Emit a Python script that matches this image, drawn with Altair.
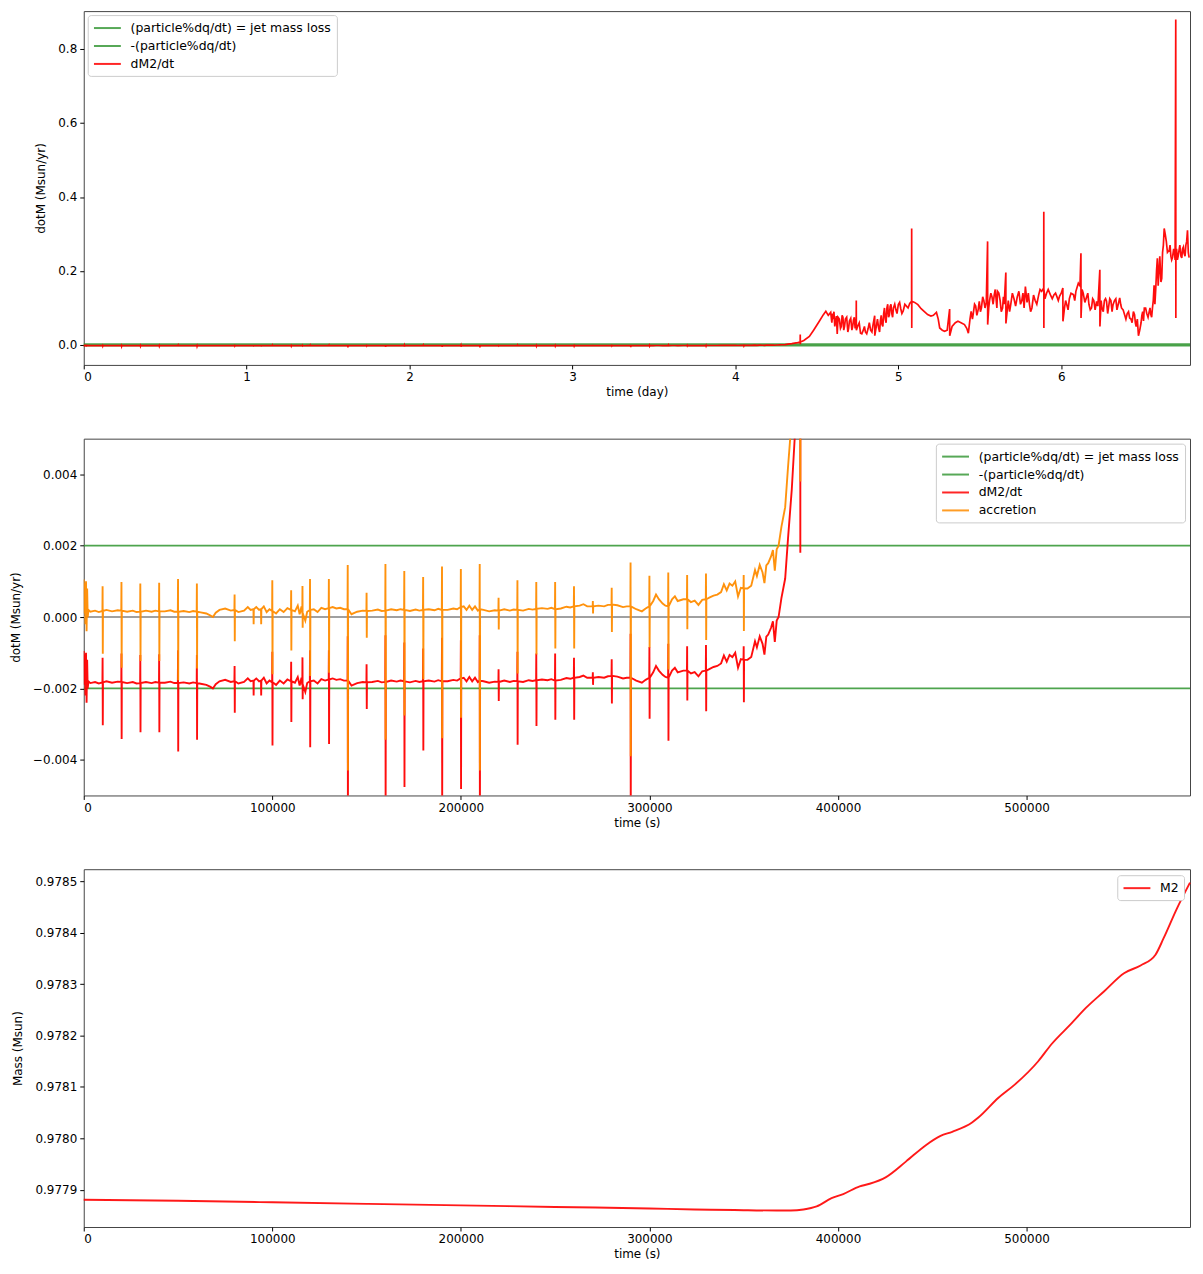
import altair as alt
import pandas as pd
import numpy as np

# ---------------- data ----------------
# dM2/dt baseline before the rise (time in s, Msun/yr)
base_t = [0, 300, 600, 900, 1200, 1500, 1800, 2100, 2500, 3500, 6000, 8000, 12000, 15000, 18000,
          23000, 26000, 28000, 33000, 36000, 38000, 43000, 46000, 48000, 53000, 56000, 58000, 62000,
          65000, 67000, 68500, 70000, 72000, 75000, 78000, 82000, 85000, 87000, 88500, 91500, 93000,
          95500, 97000, 98500, 102000, 104000, 106000, 108000, 112000, 113500, 114500, 115500, 117500,
          118500, 122000, 124000, 126000, 128000, 132000, 134000, 136000, 138000, 142000, 145000,
          148000, 153000, 156000, 158000, 163000, 166000, 168000, 173000, 176000, 178000, 183000,
          186000, 188000, 193000, 196000, 198000, 201500, 203000, 204500, 206000, 207500, 209000,
          212000, 215000, 218000, 223000, 226000, 228000, 233000, 236000, 238000, 243000, 246000,
          248000, 253000, 256000, 258000, 263000, 265000, 267000, 273000, 276000, 278000, 283000,
          286000, 288000, 293000, 296000, 298000, 302000, 303500, 305000, 307000, 308500, 312000,
          313500, 315000, 318000, 322000, 324000, 326000, 328000, 332000, 334000, 336000, 338000,
          339500, 341000, 342500, 344000, 345500, 347000, 348500, 352000, 354000, 356000, 357000,
          358500, 360000, 361000, 362000, 363000, 364500, 365500, 366500, 367500, 368500, 370000,
          372000, 373500, 375500, 377000]
base_v = [-0.00095, -0.0019, -0.00105, -0.0022, -0.0010, -0.0024, -0.0012, -0.0020, -0.00180, -0.00185,
          -0.00182, -0.00186, -0.00180, -0.00184, -0.00181, -0.00185, -0.00182, -0.00186, -0.00182,
          -0.00185, -0.00182, -0.00184, -0.00181, -0.00185, -0.00183, -0.00186, -0.00183, -0.00187,
          -0.00190, -0.00195, -0.00200, -0.00188, -0.00180, -0.00176, -0.00182, -0.00186, -0.00182,
          -0.00172, -0.00180, -0.00172, -0.00180, -0.00170, -0.00186, -0.00178, -0.00190, -0.00178,
          -0.00186, -0.00175, -0.00184, -0.00168, -0.00192, -0.00170, -0.00210, -0.00185, -0.00178,
          -0.00186, -0.00174, -0.00178, -0.00172, -0.00176, -0.00174, -0.00178, -0.00192, -0.00185,
          -0.00182, -0.00182, -0.00179, -0.00183, -0.00178, -0.00181, -0.00178, -0.00183, -0.00179,
          -0.00182, -0.00178, -0.00181, -0.00177, -0.00180, -0.00176, -0.00178, -0.00170, -0.00180,
          -0.00168, -0.00180, -0.00170, -0.00182, -0.00180, -0.00184, -0.00181, -0.00178, -0.00182,
          -0.00179, -0.00182, -0.00177, -0.00179, -0.00175, -0.00177, -0.00174, -0.00176, -0.00171,
          -0.00173, -0.00168, -0.00164, -0.00170, -0.00168, -0.00170, -0.00166, -0.00167, -0.00172,
          -0.00170, -0.00178, -0.00184, -0.00176, -0.00155, -0.00137, -0.00150, -0.00162, -0.00168,
          -0.00150, -0.00142, -0.00155, -0.00150, -0.00158, -0.00154, -0.00166, -0.00152, -0.00145,
          -0.00140, -0.00137, -0.00130, -0.00108, -0.00125, -0.00106, -0.00112, -0.00100, -0.00142,
          -0.00118, -0.00120, -0.00112, -0.00068, -0.00085, -0.00054, -0.00075, -0.00105, -0.00055,
          -0.00049, -0.00030, -0.00012, -0.00070, -0.00010, 0.00000, 0.00053, 0.00108, 0.00220,
          0.00358, 0.00497]

# periodic spikes of dM2/dt (time in s; local level, spike top, spike bottom)
spike_t = [10000, 20000, 30000, 40000, 50000, 60000, 80000, 90000, 94000, 100000, 110000, 116000,
           120000, 130000, 140000, 150000, 160000, 170000, 180000, 190000, 200000, 210000, 220000,
           230000, 240000, 250000, 260000, 270000, 280000, 290000, 300000, 310000, 320000, 330000,
           350000]
spike_base = [-0.00183, -0.00182, -0.00185, -0.00184, -0.00185, -0.00185, -0.00180, -0.00178, -0.00178,
              -0.00183, -0.00180, -0.00190, -0.00180, -0.00175, -0.00178, -0.00183, -0.00182, -0.00180,
              -0.00180, -0.00180, -0.00172, -0.00178, -0.00182, -0.00180, -0.00177, -0.00178, -0.00170,
              -0.00170, -0.00165, -0.00170, -0.00170, -0.00170, -0.00150, -0.00150, -0.00120]
spike_top = [-0.00114, -0.00102, -0.00106, -0.00104, -0.00093, -0.00106, -0.00137, -0.00178, -0.00178,
             -0.00097, -0.00125, -0.00113, -0.00093, -0.00093, -0.00054, -0.00132, -0.00051, -0.00071,
             -0.00088, -0.00058, -0.00065, -0.00051, -0.00146, -0.00097, -0.00102, -0.00102, -0.00114,
             -0.00155, -0.00118, -0.00047, -0.00084, -0.00075, -0.00082, -0.00078, -0.00082]
spike_bot = [-0.00303, -0.00342, -0.00323, -0.00323, -0.00377, -0.00344, -0.00268, -0.00220, -0.00220,
             -0.00360, -0.00294, -0.00230, -0.00365, -0.00356, -0.00630, -0.00258, -0.00544, -0.00476,
             -0.00374, -0.00540, -0.00482, -0.00630, -0.00235, -0.00358, -0.00305, -0.00288, -0.00288,
             -0.00190, -0.00242, -0.00590, -0.00285, -0.00347, -0.00234, -0.00264, -0.00239]

# dM2/dt after the rise (time in days, Msun/yr)
late_day = [4.382, 4.3975, 4.398, 4.3985, 4.399, 4.42, 4.454, 4.48, 4.515, 4.54, 4.555, 4.57, 4.585,
            4.60, 4.605, 4.616, 4.625, 4.63, 4.645, 4.655, 4.665, 4.675, 4.69, 4.70, 4.715, 4.725,
            4.735, 4.7415, 4.742, 4.7425, 4.75, 4.768, 4.785, 4.798, 4.815, 4.83, 4.845, 4.855, 4.8555,
            4.865, 4.879, 4.89, 4.90, 4.91, 4.92, 4.93, 4.94, 4.95, 4.96, 4.97, 4.985, 5.00, 5.015,
            5.03, 5.05, 5.07, 5.0815, 5.082, 5.0825, 5.083, 5.10, 5.12, 5.14, 5.16, 5.18, 5.20, 5.215,
            5.234, 5.245, 5.254, 5.27, 5.284, 5.30, 5.315, 5.3155, 5.33, 5.35, 5.366, 5.385, 5.406,
            5.42, 5.43, 5.44, 5.447, 5.46, 5.475, 5.49, 5.497, 5.51, 5.525, 5.54, 5.548, 5.5485, 5.56,
            5.575, 5.589, 5.60, 5.609, 5.625, 5.64, 5.65, 5.66, 5.6605, 5.67, 5.69, 5.71, 5.73, 5.75,
            5.765, 5.78, 5.79, 5.805, 5.82, 5.84, 5.862, 5.88, 5.8925, 5.893, 5.8935, 5.894, 5.91,
            5.933, 5.955, 5.974, 5.99, 6.01, 6.0105, 6.02, 6.034, 6.05, 6.075, 6.09, 6.105, 6.115,
            6.121, 6.1215, 6.135, 6.156, 6.17, 6.186, 6.20, 6.217, 6.225, 6.237, 6.2375, 6.25, 6.265,
            6.278, 6.29, 6.305, 6.318, 6.335, 6.35, 6.359, 6.37, 6.389, 6.405, 6.42, 6.435, 6.45,
            6.46, 6.474, 6.49, 6.50, 6.51, 6.525, 6.54, 6.55, 6.56, 6.57, 6.58, 6.59, 6.60, 6.612,
            6.622, 6.632, 6.645, 6.663, 6.673, 6.683, 6.695, 6.703, 6.7035, 6.704, 6.713, 6.723,
            6.735, 6.745, 6.754, 6.765, 6.775, 6.785]
late_v = [0.0062, 0.0075, 0.028, 0.0018, 0.008, 0.012, 0.023, 0.040, 0.064, 0.082, 0.091, 0.080, 0.088,
          0.070, 0.090, 0.068, 0.030, 0.075, 0.045, 0.080, 0.040, 0.070, 0.035, 0.065, 0.040, 0.068,
          0.045, 0.060, 0.120, 0.040, 0.050, 0.032, 0.040, 0.035, 0.045, 0.040, 0.055, 0.079, 0.025,
          0.050, 0.046, 0.065, 0.055, 0.085, 0.070, 0.100, 0.075, 0.105, 0.085, 0.100, 0.095, 0.109,
          0.098, 0.092, 0.105, 0.112, 0.118, 0.315, 0.046, 0.118, 0.115, 0.109, 0.098, 0.090, 0.082,
          0.078, 0.080, 0.088, 0.070, 0.046, 0.040, 0.037, 0.040, 0.097, 0.025, 0.050, 0.060, 0.064,
          0.060, 0.055, 0.045, 0.032, 0.070, 0.091, 0.085, 0.105, 0.095, 0.118, 0.100, 0.120, 0.115,
          0.280, 0.055, 0.120, 0.130, 0.136, 0.125, 0.145, 0.120, 0.100, 0.110, 0.196, 0.058, 0.100,
          0.109, 0.125, 0.130, 0.110, 0.140, 0.158, 0.115, 0.110, 0.100, 0.120, 0.136, 0.145, 0.154,
          0.360, 0.046, 0.150, 0.140, 0.136, 0.135, 0.130, 0.132, 0.154, 0.064, 0.100, 0.109, 0.125,
          0.136, 0.145, 0.167, 0.160, 0.248, 0.073, 0.140, 0.130, 0.110, 0.100, 0.120, 0.118, 0.105,
          0.203, 0.050, 0.100, 0.120, 0.118, 0.100, 0.120, 0.109, 0.125, 0.110, 0.127, 0.100, 0.082,
          0.085, 0.073, 0.060, 0.082, 0.050, 0.025, 0.060, 0.090, 0.100, 0.085, 0.090, 0.082, 0.100,
          0.161, 0.150, 0.234, 0.200, 0.170, 0.250, 0.315, 0.280, 0.256, 0.240, 0.236, 0.250, 0.880,
          0.073, 0.250, 0.230, 0.256, 0.240, 0.260, 0.248, 0.270, 0.310, 0.236]

# extra jitter points of the noisy band after the rise (days, Msun/yr)
noise_day = [4.592, 4.597, 4.610, 4.620, 4.638, 4.650, 4.660, 4.670, 4.683, 4.695, 4.708, 4.720, 4.730,
             4.760, 4.776, 4.792, 4.806, 4.822, 4.838, 4.872, 4.885, 4.895, 4.905, 4.915, 4.925, 4.935,
             4.945, 4.955, 4.965, 4.978, 4.992, 5.008, 5.022, 5.040, 5.060,
             5.455, 5.468, 5.482, 5.504, 5.518, 5.532, 5.555, 5.568, 5.582, 5.595, 5.605, 5.617, 5.632,
             5.645, 5.675, 5.683, 5.700, 5.720, 5.740, 5.758, 5.772, 5.798, 5.812, 5.830, 5.850, 5.870,
             5.900, 5.920, 5.945, 5.965, 5.982, 6.000, 6.027, 6.042, 6.060, 6.083, 6.097, 6.128, 6.145,
             6.163, 6.178, 6.193, 6.208, 6.245, 6.258, 6.272, 6.285, 6.298, 6.312, 6.327, 6.342, 6.365,
             6.380, 6.397, 6.413, 6.428, 6.443, 6.455, 6.467, 6.482, 6.495, 6.505, 6.518, 6.533, 6.545,
             6.555, 6.565, 6.575, 6.585, 6.595, 6.605, 6.617, 6.627, 6.638, 6.652, 6.668, 6.678, 6.690,
             6.699, 6.708, 6.718, 6.728, 6.740, 6.750, 6.760, 6.770, 6.780]
noise_v = [0.060, 0.085, 0.050, 0.078, 0.070, 0.050, 0.075, 0.050, 0.075, 0.045, 0.072, 0.050, 0.075,
           0.060, 0.030, 0.050, 0.030, 0.060, 0.035, 0.070, 0.035, 0.080, 0.050, 0.100, 0.060, 0.110,
           0.080, 0.110, 0.075, 0.110, 0.085, 0.115, 0.085, 0.110, 0.100,
           0.070, 0.110, 0.080, 0.090, 0.130, 0.100, 0.100, 0.140, 0.110, 0.150, 0.100, 0.140, 0.090,
           0.130, 0.120, 0.090, 0.140, 0.105, 0.145, 0.120, 0.100, 0.140, 0.090, 0.135, 0.110, 0.150,
           0.125, 0.150, 0.125, 0.140, 0.120, 0.140, 0.120, 0.095, 0.140, 0.120, 0.155, 0.150, 0.115,
           0.140, 0.095, 0.125, 0.095, 0.120, 0.090, 0.125, 0.085, 0.125, 0.090, 0.120, 0.095, 0.110,
           0.095, 0.070, 0.090, 0.070, 0.090, 0.060, 0.070, 0.040, 0.080, 0.065, 0.100, 0.075, 0.100,
           0.075, 0.120, 0.110, 0.200, 0.160, 0.240, 0.180, 0.270, 0.300, 0.250, 0.270, 0.230, 0.260,
           0.230, 0.260, 0.240, 0.270, 0.235, 0.265, 0.240, 0.280, 0.250]

# jet mass loss rate (Msun/yr), constant over the run
jet_t = [0, 586700]
jet_v = [-0.002, -0.002]
jet_neg_v = [0.002, 0.002]
jet_rate = 0.002
zero_v = [0.0, 0.0]

# secondary mass M2 (time in s, Msun)
m2_t = [0, 50000, 100000, 150000, 200000, 250000, 300000, 323900, 345000, 367700, 375000, 381700,
        388700, 396600, 402800, 411500, 416800, 425500, 436000, 446600, 454400, 460600, 471100,
        474600, 485100, 493900, 506200, 513200, 523700, 531600, 541200, 551700, 560500, 568400,
        572700, 579800, 586700]
m2_v = [0.977881, 0.977879, 0.977876, 0.977873, 0.977870, 0.977867, 0.977864, 0.977862, 0.977861,
        0.977860, 0.977860, 0.977862, 0.977868, 0.977884, 0.977892, 0.977907, 0.977912, 0.977925,
        0.977955, 0.977987, 0.978005, 0.978013, 0.978031, 0.978041, 0.978079, 0.978105, 0.978150,
        0.978183, 0.978223, 0.978254, 0.978286, 0.978321, 0.978336, 0.978357, 0.978389, 0.978447,
        0.978497]

# ---------------- tables ----------------
SEC_PER_DAY = 86400.0
rows_t = list(np.array(base_t, float))
rows_v = list(np.array(base_v, float))
for T, b, tp, bo in zip(spike_t, spike_base, spike_top, spike_bot):
    rows_t += [T - 100, T, T + 100, T + 200]
    rows_v += [b, tp, bo, b]
rows_t += list(np.array(late_day) * SEC_PER_DAY) + list(np.array(noise_day) * SEC_PER_DAY)
rows_v += list(late_v) + list(noise_v)
dm2 = pd.DataFrame({"t": rows_t, "v": rows_v}).sort_values("t", kind="stable").reset_index(drop=True)
dm2["day"] = dm2["t"] / SEC_PER_DAY
dm2["series"] = "dM2/dt"

acc = dm2[dm2["t"] < 381000].copy()
acc["v"] = acc["v"] + jet_rate
acc["series"] = "accretion"

jet1 = pd.DataFrame({"t": jet_t, "v": jet_v, "series": "(particle%dq/dt) = jet mass loss"})
jet2 = pd.DataFrame({"t": jet_t, "v": jet_neg_v, "series": "-(particle%dq/dt)"})
for d in (jet1, jet2):
    d["day"] = d["t"] / SEC_PER_DAY
zero = pd.DataFrame({"t": jet_t, "v": zero_v})
m2 = pd.DataFrame({"t": m2_t, "v": m2_v, "series": "M2"})

# ---------------- styling ----------------
GREEN = "#3a9a3a"
RED = "#ff0000"
ORANGE = "#ff8c00"
FONT = "DejaVu Sans"
W = 1110

names1 = ["(particle%dq/dt) = jet mass loss", "-(particle%dq/dt)", "dM2/dt"]
cols1 = [GREEN, GREEN, RED]
names2 = names1 + ["accretion"]
cols2 = cols1 + [ORANGE]


def legend(orient, offset):
    return alt.Legend(
        title=None, orient=orient, offset=offset, padding=5,
        fillColor="white", strokeColor="#cccccc", cornerRadius=3,
        symbolType="M-1,0H3", symbolSize=182, symbolStrokeWidth=2, symbolOpacity=0.85,
        labelFont=FONT, labelFontSize=12.5, labelColor="#000", labelOffset=22,
        rowPadding=3, labelLimit=400,
    )


def color(names, cols, leg):
    return alt.Color("series:N", scale=alt.Scale(domain=names, range=cols), legend=leg)


# ---- panel 1 (days) ----
x1 = alt.X("day:Q", title="time (day)",
           scale=alt.Scale(domain=[0, 586700 / SEC_PER_DAY], nice=False, zero=False),
           axis=alt.Axis(values=[0, 1, 2, 3, 4, 5, 6], format="d"))
y1 = alt.Y("v:Q", title="dotM (Msun/yr)",
           scale=alt.Scale(domain=[-0.0539, 0.9024], nice=False, zero=False),
           axis=alt.Axis(values=[0, 0.2, 0.4, 0.6, 0.8], format=".1f"))
c1 = color(names1, cols1, legend("top-left", 4))
p1 = alt.layer(
    alt.Chart(jet1).mark_line(strokeWidth=1.8, opacity=0.9).encode(x=x1, y=y1, color=c1),
    alt.Chart(jet2).mark_line(strokeWidth=1.8, opacity=0.9).encode(x=x1, y=y1, color=c1),
    alt.Chart(dm2).mark_line(strokeWidth=1.7, opacity=0.95).encode(x=x1, y=y1, color=c1),
).properties(width=W, height=355)

# ---- panel 2 (seconds, zoom) ----
x2 = alt.X("t:Q", title="time (s)",
           scale=alt.Scale(domain=[0, 586700], nice=False, zero=False),
           axis=alt.Axis(values=[0, 100000, 200000, 300000, 400000, 500000], format="d"))
y2 = alt.Y("v:Q", title="dotM (Msun/yr)",
           scale=alt.Scale(domain=[-0.005, 0.005], nice=False, zero=False),
           axis=alt.Axis(values=[-0.004, -0.002, 0, 0.002, 0.004], format=".3f"))
c2 = color(names2, cols2, legend("top-right", 5))
p2 = alt.layer(
    alt.Chart(zero).mark_line(strokeWidth=2, color="#a0a0a0", clip=True).encode(x=x2, y=y2),
    alt.Chart(jet1).mark_line(strokeWidth=1.8, opacity=0.9, clip=True).encode(x=x2, y=y2, color=c2),
    alt.Chart(jet2).mark_line(strokeWidth=1.8, opacity=0.9, clip=True).encode(x=x2, y=y2, color=c2),
    alt.Chart(dm2).mark_line(strokeWidth=1.9, opacity=0.95, clip=True).encode(x=x2, y=y2, color=c2),
    alt.Chart(acc).mark_line(strokeWidth=1.9, opacity=0.95, clip=True).encode(x=x2, y=y2, color=c2),
).properties(width=W, height=358)

# ---- panel 3 (mass) ----
y3 = alt.Y("v:Q", title="Mass (Msun)",
           scale=alt.Scale(domain=[0.977828, 0.978523], nice=False, zero=False),
           axis=alt.Axis(values=[0.9779, 0.978, 0.9781, 0.9782, 0.9783, 0.9784, 0.9785], format=".4f"))
c3 = color(["M2"], [RED], legend("top-right", 6))
p3 = alt.Chart(m2).mark_line(strokeWidth=1.9, opacity=0.9, interpolate="monotone").encode(
    x=x2, y=y3, color=c3).properties(width=W, height=359)

chart = alt.vconcat(p1, p2, p3, spacing=39).resolve_scale(
    color="independent", x="independent", y="independent"
).resolve_legend(color="independent").properties(
    padding={"left": 1, "top": 0, "right": 0, "bottom": 0}
).configure_view(
    stroke="#444444", strokeWidth=1
).configure_axis(
    labelFont=FONT, titleFont=FONT, labelFontSize=12, titleFontSize=12,
    labelColor="#000", titleColor="#000", titleFontWeight="normal",
    tickColor="#000", tickSize=4, tickWidth=1, labelPadding=3, grid=False, domain=False,
).configure_axisY(titlePadding=10).configure_axisX(titlePadding=4)

chart.save("out.html", embed_options={"renderer": "svg", "actions": False})
